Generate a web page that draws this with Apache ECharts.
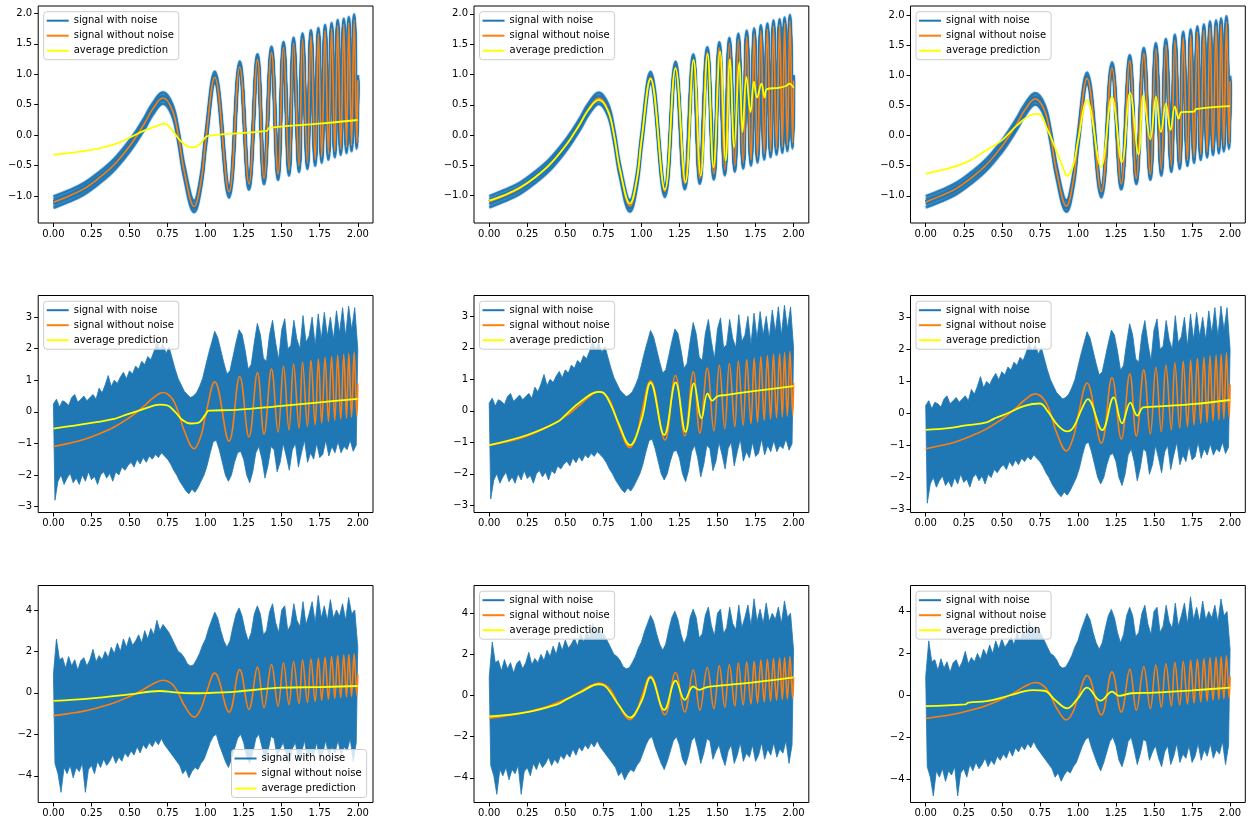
<!DOCTYPE html>
<html>
<head>
<meta charset="utf-8">
<script src="https://cdn.jsdelivr.net/npm/echarts@6/dist/echarts.min.js"></script>
<style>html,body{margin:0;padding:0;background:#fff}#c{width:1249px;height:824px}</style>
</head>
<body>
<div id="c"></div>
<script>
// ---------- data ----------
const seriesNames = ['signal with noise', 'signal without noise', 'average prediction'];
const xTicks = [0, 0.25, 0.5, 0.75, 1.0, 1.25, 1.5, 1.75, 2.0];
const yTicksRow1 = [-1, -0.5, 0, 0.5, 1, 1.5, 2];
const yTicksRow2 = [-3, -2, -1, 0, 1, 2, 3];
const yTicksRow3 = [-4, -2, 0, 2, 4];

// clean chirp signal (read at its turning points and a few points on the slow part)
const cleanX = [0, 0.1, 0.2, 0.3, 0.4, 0.5, 0.55, 0.6, 0.65, 0.72, 0.78, 0.82, 0.86, 0.925, 0.97, 1.0, 1.06,
  1.154, 1.224, 1.285, 1.341, 1.384, 1.433, 1.476, 1.512, 1.548, 1.578, 1.614, 1.637, 1.669, 1.692, 1.72, 1.741,
  1.763, 1.785, 1.807, 1.828, 1.849, 1.868, 1.888, 1.908, 1.926, 1.941, 1.959, 1.976, 1.994, 2.0];
const cleanY = [-1.1, -1.0, -0.88, -0.7, -0.48, -0.18, 0.0, 0.2, 0.42, 0.61, 0.42, 0.0, -0.6, -1.17, -0.75, -0.1, 0.95,
  -0.93, 1.12, -0.8, 1.24, -0.71, 1.36, -0.64, 1.44, -0.57, 1.51, -0.51, 1.58, -0.46, 1.63, -0.41, 1.67,
  -0.36, 1.72, -0.31, 1.75, -0.27, 1.8, -0.23, 1.82, -0.2, 1.85, -0.17, 1.89, -0.13, 0.9];

// noisy signal, medium noise (row 2): upper spikes at x = 0,0.02,..,2 and lower spikes at x = 0.01,0.03,..,1.99
const noise2Hi = [0.25,0.4,0.15,0.35,0.3,0.2,0.45,0.55,0.3,0.4,
  0.5,0.35,0.45,0.55,0.4,0.75,0.6,0.85,1.15,0.8,
  1.0,0.9,1.1,1.25,1.05,1.3,1.2,1.45,1.35,1.6,
  1.5,1.75,1.65,1.9,2.2,1.95,2.15,1.85,2.05,1.7,
  1.35,1.05,0.85,0.65,0.55,0.45,0.5,0.6,0.8,1.05,
  1.45,1.85,2.2,2.55,2.35,1.95,1.55,1.2,1.3,1.75,
  2.2,2.6,2.45,1.95,1.35,1.5,2.2,2.8,2.45,1.7,
  1.6,2.45,2.9,2.2,1.65,2.6,2.95,2.0,2.1,2.9,
  2.3,2.0,3.05,2.2,2.4,3.0,2.1,3.1,2.3,3.15,
  2.4,3.0,2.3,3.2,2.5,3.3,2.4,3.35,2.6,3.3,
  2.0];
const noise2Lo = [-2.8,-2.2,-2.0,-2.3,-2.1,-1.95,-2.25,-2.1,-2.3,-2.0,
  -2.2,-1.9,-2.15,-2.05,-2.3,-2.0,-1.9,-2.1,-1.95,-2.2,
  -1.9,-2.0,-1.75,-1.85,-1.7,
  -1.6,-1.75,-1.5,-1.65,-1.45,-1.6,-1.4,-1.5,-1.35,-1.45,-1.3,-1.4,-1.5,-1.65,-1.85,
  -2.0,-2.2,-2.35,-2.5,-2.6,-2.45,-2.55,-2.4,-2.2,-2.0,
  -1.7,-1.3,-0.95,-0.9,-1.2,-1.6,-2.0,-2.2,-2.0,-1.6,
  -1.3,-1.25,-1.5,-2.0,-2.25,-1.9,-1.3,-1.1,-1.5,-2.1,
  -1.7,-1.1,-1.2,-1.9,-1.6,
  -1.0,-1.4,-1.85,-1.2,-1.0,-1.75,-1.3,-0.9,-1.6,-1.3,
  -1.5,-1.0,-1.45,-1.35,-0.9,-1.4,-1.1,-1.3,-0.95,-1.3,
  -1.1,-1.2,-0.9,-1.25,-1.05];

// noisy signal, strong noise (row 3)
const noise3Hi = [0.9,2.6,1.6,1.7,1.2,1.75,1.3,1.6,1.1,1.55,
  1.7,1.3,1.6,2.1,1.5,1.8,1.6,2.0,1.7,2.2,
  1.9,2.4,2.0,2.6,2.2,2.7,2.3,2.5,2.8,2.4,
  3.0,2.6,3.1,2.8,3.5,3.0,3.3,3.1,2.9,2.6,
  2.3,2.0,1.9,1.7,1.4,1.3,1.35,1.6,1.9,2.3,
  2.6,3.1,3.5,3.9,3.6,3.0,2.5,2.2,2.5,3.2,
  3.8,4.1,3.7,3.0,2.5,2.9,3.8,4.2,3.8,2.8,
  3.0,3.9,4.3,3.4,2.9,4.0,4.2,3.0,3.3,4.3,
  3.5,3.2,4.4,3.3,3.8,4.4,3.4,4.7,3.6,4.2,
  3.5,4.5,3.6,4.0,3.7,4.3,3.5,4.6,3.8,4.0,
  2.2];
const noise3Lo = [-3.4,-3.9,-4.8,-3.6,-3.9,-3.5,-4.1,-3.6,-3.8,-3.4,
  -4.8,-3.7,-3.5,-3.9,-3.3,-3.6,-3.2,-3.5,-3.3,-3.0,
  -3.4,-3.1,-3.3,-2.9,-3.1,
  -2.8,-3.0,-2.6,-2.9,-2.5,-2.7,-2.4,-2.6,-2.3,-2.5,-2.2,-2.5,-2.7,-2.9,-3.1,
  -3.3,-3.5,-3.9,-3.7,-4.1,-3.8,-3.6,-3.7,-3.4,-3.2,
  -2.8,-2.4,-2.1,-2.0,-2.5,-2.9,-3.3,-3.6,-3.2,-2.7,
  -2.2,-2.0,-2.4,-3.1,-3.4,-2.9,-2.2,-2.0,-2.6,-3.3,
  -2.8,-2.1,-2.2,-3.1,-2.7,
  -2.4,-3.0,-3.4,-2.7,-2.4,-3.3,-2.9,-2.3,-3.2,-2.8,
  -3.0,-2.4,-3.2,-2.9,-2.3,-3.1,-2.6,-2.9,-2.3,-3.0,
  -2.6,-2.8,-2.2,-3.3,-2.4];

// average predictions, one per panel
const pred11 = [[0,-0.32],[0.25,-0.24],[0.4,-0.15],[0.5,-0.04],[0.6,0.08],[0.7,0.17],[0.73,0.19],[0.78,0.08],[0.83,-0.08],[0.88,-0.18],[0.92,-0.2],[0.96,-0.15],[1.0,-0.03],[1.02,-0.01],[1.25,0.04],[1.4,0.07],[1.42,0.12],[1.75,0.19],[2.0,0.25]];
const pred12 = [[0,-1.08],[0.1,-0.99],[0.2,-0.87],[0.3,-0.7],[0.4,-0.48],[0.5,-0.18],[0.55,0],[0.6,0.2],[0.65,0.41],[0.72,0.58],[0.78,0.4],[0.82,0],[0.86,-0.58],[0.925,-1.13],[0.97,-0.73],[1.0,-0.1],[1.06,0.93],[1.154,-0.9],[1.224,1.1],[1.29,-0.78],[1.343,1.24],[1.39,-0.67],[1.435,1.34],[1.474,-0.53],[1.517,1.38],[1.554,-0.42],[1.582,1.25],[1.61,-0.2],[1.643,1.2],[1.665,0.05],[1.69,0.96],[1.717,0.38],[1.739,0.88],[1.76,0.62],[1.789,0.85],[1.81,0.62],[1.825,0.76],[1.9,0.78],[1.95,0.81],[1.973,0.85],[2.0,0.78]];
const pred13 = [[0,-0.63],[0.25,-0.46],[0.4,-0.24],[0.5,-0.08],[0.6,0.17],[0.7,0.35],[0.74,0.36],[0.8,0.1],[0.85,-0.2],[0.9,-0.52],[0.93,-0.67],[0.97,-0.49],[1.0,-0.1],[1.06,0.59],[1.152,-0.52],[1.224,0.64],[1.289,-0.44],[1.343,0.71],[1.398,-0.31],[1.43,0.67],[1.476,-0.06],[1.513,0.64],[1.546,0.06],[1.578,0.53],[1.609,0.09],[1.637,0.48],[1.663,0.28],[1.68,0.39],[1.765,0.4],[1.775,0.44],[2.0,0.49]];
const pred21 = [[0,-0.53],[0.25,-0.35],[0.4,-0.22],[0.45,-0.14],[0.5,-0.06],[0.6,0.1],[0.7,0.23],[0.75,0.2],[0.8,0.0],[0.85,-0.27],[0.9,-0.37],[0.95,-0.35],[1.0,-0.08],[1.02,0.04],[1.2,0.06],[1.5,0.19],[1.75,0.3],[2.0,0.41]];
const pred22 = [[0,-1.09],[0.25,-0.77],[0.45,-0.35],[0.5,-0.14],[0.6,0.29],[0.72,0.6],[0.75,0.57],[0.8,0.18],[0.85,-0.4],[0.925,-1.09],[1.0,-0.3],[1.06,0.89],[1.15,-0.77],[1.225,0.9],[1.29,-0.67],[1.345,0.87],[1.395,-0.24],[1.435,0.55],[1.465,0.32],[1.5,0.46],[1.55,0.5],[1.75,0.63],[2.0,0.78]];
const pred23 = [[0,-0.51],[0.15,-0.46],[0.25,-0.38],[0.4,-0.28],[0.45,-0.16],[0.5,-0.07],[0.55,0.03],[0.65,0.24],[0.75,0.31],[0.8,0.08],[0.87,-0.38],[0.93,-0.56],[0.97,-0.44],[1.03,0.19],[1.065,0.45],[1.16,-0.52],[1.235,0.5],[1.29,-0.31],[1.345,0.34],[1.39,-0.07],[1.43,0.19],[1.5,0.21],[1.75,0.29],[2.0,0.42]];
const pred31 = [[0,-0.39],[0.25,-0.27],[0.5,-0.07],[0.7,0.09],[0.8,0.02],[0.9,-0.02],[1.0,-0.01],[1.2,0.06],[1.5,0.25],[1.75,0.28],[2.0,0.33]];
const pred32 = [[0,-1.02],[0.25,-0.81],[0.45,-0.42],[0.5,-0.22],[0.6,0.16],[0.72,0.55],[0.76,0.47],[0.8,0.11],[0.85,-0.45],[0.925,-1.07],[1.0,-0.29],[1.06,0.88],[1.15,-0.7],[1.225,0.73],[1.285,-0.21],[1.34,0.44],[1.38,0.28],[1.42,0.39],[1.5,0.47],[1.75,0.65],[2.0,0.88]];
const pred33 = [[0,-0.51],[0.26,-0.43],[0.28,-0.35],[0.4,-0.27],[0.5,-0.11],[0.6,0.1],[0.7,0.25],[0.78,0.22],[0.85,-0.22],[0.93,-0.62],[1.0,-0.14],[1.06,0.37],[1.15,-0.25],[1.225,0.18],[1.27,-0.02],[1.35,0.1],[1.5,0.13],[1.75,0.24],[2.0,0.37]];

// ---------- layout ----------
const colLeft = [38.2, 474.0, 910.5];
const rowTop = [6, 295.5, 585.5];
const panelW = 334.8, panelH = 217;
const yRanges = [[[-1.44, 2.12], [-1.45, 2.13], [-1.45, 2.15]],
                 [[-3.19, 3.685], [-3.23, 3.66], [-3.09, 3.68]],
                 [[-5.29, 5.18], [-5.2, 5.35], [-5.11, 5.24]]];
const preds = [[pred11, pred12, pred13], [pred21, pred22, pred23], [pred31, pred32, pred33]];
const yTicksByRow = [yTicksRow1, yTicksRow2, yTicksRow3];
const noiseByRow = [null, [noise2Hi, noise2Lo], [noise3Hi, noise3Lo]];

const BLUE = '#1f77b4', ORANGE = '#ff7f0e', YELLOW = '#ffff00';
const FONT = 'DejaVu Sans';
const cleanData = cleanX.map((x, i) => [x, cleanY[i]]);
// outline of the noisy band: upper spikes forward, lower spikes backward
function bandOutline(hi, lo) {
  const top = hi.map((v, i) => [i * 0.02, v]);
  const bottom = lo.map((v, i) => [i * 0.02 + 0.01, v]).reverse();
  return top.concat(bottom);
}
const minus = s => String(s).replace('-', '\u2212');

const grids = [], xAxes = [], yAxes = [], series = [], legends = [];
for (let r = 0; r < 3; r++) {
  for (let c = 0; c < 3; c++) {
    const gi = grids.length;
    grids.push({left: colLeft[c], top: rowTop[r], width: panelW, height: panelH,
      show: true, borderColor: '#000', borderWidth: 1, backgroundColor: 'transparent'});
    xAxes.push({gridIndex: gi, type: 'value', min: -0.1, max: 2.1,
      axisLine: {show: false, onZero: false},
      axisTick: {show: true, customValues: xTicks, length: 4, lineStyle: {color: '#000', width: 1}},
      axisLabel: {customValues: xTicks, formatter: v => v.toFixed(2), color: '#000', fontSize: 10, fontFamily: FONT, margin: 6},
      splitLine: {show: false}});
    const yt = yTicksByRow[r];
    yAxes.push({gridIndex: gi, type: 'value', min: yRanges[r][c][0], max: yRanges[r][c][1],
      axisLine: {show: false, onZero: false},
      axisTick: {show: true, customValues: yt, length: 4, lineStyle: {color: '#000', width: 1}},
      axisLabel: {customValues: yt, show: true,
        formatter: v => minus(r === 0 ? v.toFixed(1) : String(Math.round(v))),
        color: '#000', fontSize: 10, fontFamily: FONT, margin: 6},
      splitLine: {show: false}});
    // blue noisy signal
    if (r === 0) {
      [5.5, -5.5, 2.5, -2.5].forEach(off => {
        series.push({name: seriesNames[0], type: 'line', xAxisIndex: gi, yAxisIndex: gi, data: cleanData,
          smooth: 0.4, showSymbol: false, symbol: 'none', silent: true,
          lineStyle: {color: BLUE, width: 3, shadowColor: BLUE, shadowBlur: 1, shadowOffsetY: off},
          itemStyle: {color: BLUE}});
      });
    } else {
      const outline = bandOutline(noiseByRow[r][0], noiseByRow[r][1]);
      series.push({name: seriesNames[0], type: 'custom', xAxisIndex: gi, yAxisIndex: gi, data: outline,
        encode: {x: 0, y: 1}, clip: true, silent: true, itemStyle: {color: BLUE},
        renderItem: (params, api) => {
          if (params.dataIndex !== 0) return null;
          return {type: 'polygon', shape: {points: outline.map(p => api.coord(p))},
            style: {fill: BLUE, stroke: BLUE, lineWidth: 0.8}};
        }});
    }
    series.push({name: seriesNames[1], type: 'line', xAxisIndex: gi, yAxisIndex: gi, data: cleanData,
      smooth: 0.4, showSymbol: false, symbol: 'none', silent: true,
      lineStyle: {color: ORANGE, width: 1.6}, itemStyle: {color: ORANGE}});
    series.push({name: seriesNames[2], type: 'line', xAxisIndex: gi, yAxisIndex: gi, data: preds[r][c],
      smooth: 0.4, showSymbol: false, symbol: 'none', silent: true,
      lineStyle: {color: YELLOW, width: 1.8}, itemStyle: {color: YELLOW}});
    const lg = {data: seriesNames, orient: 'vertical', icon: 'rect', itemWidth: 22, itemHeight: 2, itemGap: 3,
      padding: [3, 5, 3, 3], backgroundColor: 'rgba(255,255,255,0.8)', borderColor: '#cccccc', borderWidth: 1,
      borderRadius: 3, selectedMode: false, z: 10,
      itemStyle: {shadowBlur: 0, shadowOffsetY: 0, shadowColor: 'transparent'},
      textStyle: {fontSize: 10, color: '#000', fontFamily: FONT, lineHeight: 12}};
    if (r === 2 && c === 0) { lg.left = 231.5; lg.top = 749.5; }
    else { lg.left = colLeft[c] + 5.5; lg.top = rowTop[r] + 5.7; }
    legends.push(lg);
  }
}

const chart = echarts.init(document.getElementById('c'), null, {renderer: 'canvas'});
chart.setOption({animation: false, backgroundColor: '#fff', grid: grids, xAxis: xAxes, yAxis: yAxes, series: series, legend: legends});
</script>
</body>
</html>
